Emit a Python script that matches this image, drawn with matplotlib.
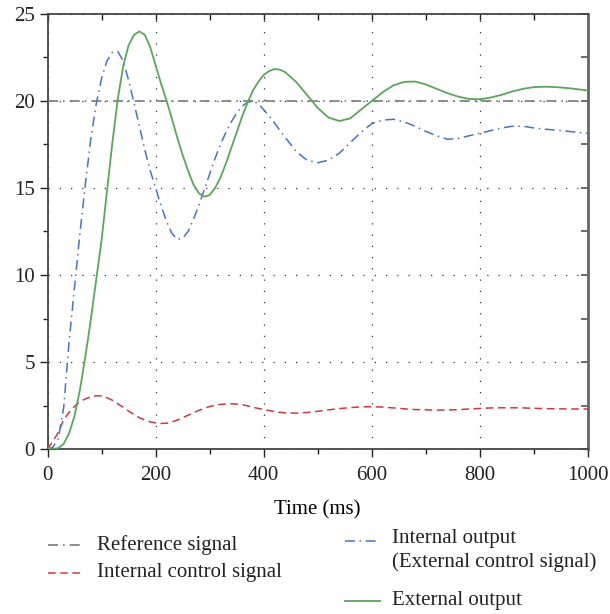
import matplotlib
matplotlib.use("Agg")
import matplotlib.pyplot as plt
from matplotlib.lines import Line2D
from matplotlib.ticker import MultipleLocator

plt.rcParams['font.family'] = ['Liberation Serif', 'DejaVu Serif']

time_ms = list(range(0, 441, 10)) + list(range(460, 1001, 20))

reference_level = 20.0

external_output = [0, 0, 0.05, 0.3, 0.9, 1.9, 3.4, 5.3, 7.4, 9.7, 12.0, 14.8, 17.6, 20.1, 22.0,
                   23.2, 23.8, 24.0, 23.8, 23.1, 22.05, 21.0, 20.05, 19.0, 17.9, 16.9, 16.0,
                   15.2, 14.7, 14.5, 14.6, 15.0, 15.6, 16.4, 17.3, 18.2, 19.1, 19.9, 20.6,
                   21.1, 21.5, 21.72, 21.84, 21.8, 21.65,
                   21.1, 20.35, 19.6, 19.05, 18.85,
                   19.0, 19.5, 20.0, 20.5, 20.9, 21.1, 21.12, 20.95, 20.7, 20.45, 20.25, 20.12,
                   20.1, 20.2, 20.35, 20.55, 20.7, 20.8, 20.82, 20.8, 20.75, 20.68, 20.6]

internal_output = [0, 0.1, 0.6, 2.4, 6.2, 9.3, 12.4, 15.2, 17.8, 19.8, 21.3, 22.3, 22.8, 22.85,
                   22.3, 21.2, 19.9, 18.55, 17.2, 16.0, 15.0, 14.0, 13.1, 12.4, 12.05, 12.1, 12.5,
                   13.2, 14.0, 14.9, 15.8, 16.7, 17.5, 18.2, 18.8, 19.3, 19.7, 19.93, 20.0,
                   19.85, 19.5, 19.15, 18.75, 18.3, 17.9,
                   17.1, 16.6, 16.45, 16.6, 17.0,
                   17.6, 18.2, 18.7, 18.9, 18.95, 18.8, 18.55, 18.25, 18.0, 17.8, 17.85, 18.0,
                   18.15, 18.3, 18.45, 18.55, 18.55, 18.45, 18.38, 18.33, 18.27, 18.2, 18.15]

internal_control = [0, 0.45, 0.95, 1.7, 2.1, 2.45, 2.72, 2.88, 3.0, 3.06, 3.05, 2.95, 2.8, 2.6,
                    2.4, 2.18, 1.98, 1.8, 1.66, 1.56, 1.5, 1.47, 1.48, 1.55, 1.66, 1.8, 1.94,
                    2.08, 2.22, 2.34, 2.44, 2.51, 2.56, 2.59, 2.6, 2.58, 2.55, 2.48, 2.4,
                    2.33, 2.27, 2.21, 2.15, 2.11, 2.08,
                    2.06, 2.1, 2.17, 2.25, 2.32,
                    2.38, 2.42, 2.43, 2.41, 2.36, 2.31, 2.27, 2.25, 2.24, 2.24, 2.26, 2.3,
                    2.33, 2.36, 2.37, 2.37, 2.36, 2.34, 2.32, 2.31, 2.3, 2.3, 2.3]

x_ticks = [0, 200, 400, 600, 800, 1000]
y_ticks = [0, 5, 10, 15, 20, 25]
x_label = "Time (ms)"
legend_labels = ["Reference signal", "Internal control signal",
                 "Internal output\n(External control signal)", "External output"]

C_REF = "#7a7a7a"
C_RED = "#d8353f"
C_BLUE = "#4a72c4"
C_GREEN = "#5aa65a"
FS = 15

W, H = 610, 614
fig = plt.figure(figsize=(W / 100, H / 100), dpi=100)
ax = fig.add_axes([47.5 / W, 1 - 449 / H, (588 - 47.5) / W, (449 - 14) / H])

ref_line = [reference_level] * len(time_ms)
ax.plot(time_ms, ref_line, color=C_REF, lw=1.2, dashes=(6, 3, 1, 3), zorder=3)
ax.plot(time_ms, internal_control, color=C_RED, lw=1.1, dashes=(5, 3), zorder=3)
ax.plot(time_ms, internal_output, color=C_BLUE, lw=1.1, dashes=(6.5, 3, 1, 3), zorder=3)
ax.plot(time_ms, external_output, color=C_GREEN, lw=1.3, zorder=4)

ax.set_xlim(0, 1000)
ax.set_ylim(0, 25)
ax.set_xticks(x_ticks)
ax.set_yticks(y_ticks)
ax.xaxis.set_minor_locator(MultipleLocator(100))
ax.yaxis.set_minor_locator(MultipleLocator(2.5))
ax.tick_params(axis='both', which='major', direction='out', length=6, width=1.0,
               labelsize=FS, colors='#222222')
ax.tick_params(axis='both', which='minor', direction='out', length=3.5, width=1.0, colors='#222222')
ax.tick_params(axis='x', pad=6)
ax.tick_params(axis='y', pad=3)
ax.grid(True, which='major', color='#333333', lw=0.9, linestyle=(0, (1, 8)))
ax.set_xlabel(x_label, fontsize=FS, labelpad=11)

for s in ax.spines.values():
    s.set_color('#444444')
    s.set_linewidth(1.3)
ax.spines['right'].set_color('#666666')
ax.spines['right'].set_linewidth(2.0)

sec_top = ax.secondary_xaxis('top')
sec_top.set_xticks(range(0, 1001, 100))
sec_top.tick_params(direction='in', length=4, width=1.0, labeltop=False, colors='#222222')
sec_top.spines['top'].set_visible(False)
sec_right = ax.secondary_yaxis('right')
sec_right.set_yticks([v * 2.5 for v in range(11)])
sec_right.tick_params(direction='in', length=5, width=1.2, labelright=False, colors='#555555')
sec_right.spines['right'].set_visible(False)

# legend drawn manually in figure pixel space
def fx(px):
    return px / W

def fy(py):
    return 1 - py / H

entries = [
    (48, 83, 545, 97, legend_labels[0], dict(color=C_REF, lw=1.2, dashes=(6, 3, 1, 3)), 'center'),
    (48, 83, 573, 97, legend_labels[1], dict(color=C_RED, lw=1.1, dashes=(5, 3)), 'center'),
    (345, 380, 541, 392, legend_labels[2], dict(color=C_BLUE, lw=1.1, dashes=(6.5, 3, 1, 3)), 'top'),
    (345, 380, 601, 392, legend_labels[3], dict(color=C_GREEN, lw=1.3), 'center'),
]
for x0, x1, yy, tx, lab, style, va in entries:
    fig.add_artist(Line2D([fx(x0), fx(x1)], [fy(yy), fy(yy)], transform=fig.transFigure, **style))
    if va == 'top':
        fig.text(fx(tx), fy(yy - 12), lab, fontsize=FS, va='top', ha='left',
                 color='#222222', linespacing=1.3)
    else:
        fig.text(fx(tx), fy(yy), lab, fontsize=FS, va='center', ha='left', color='#222222')

fig.savefig("out.png", dpi=100)
